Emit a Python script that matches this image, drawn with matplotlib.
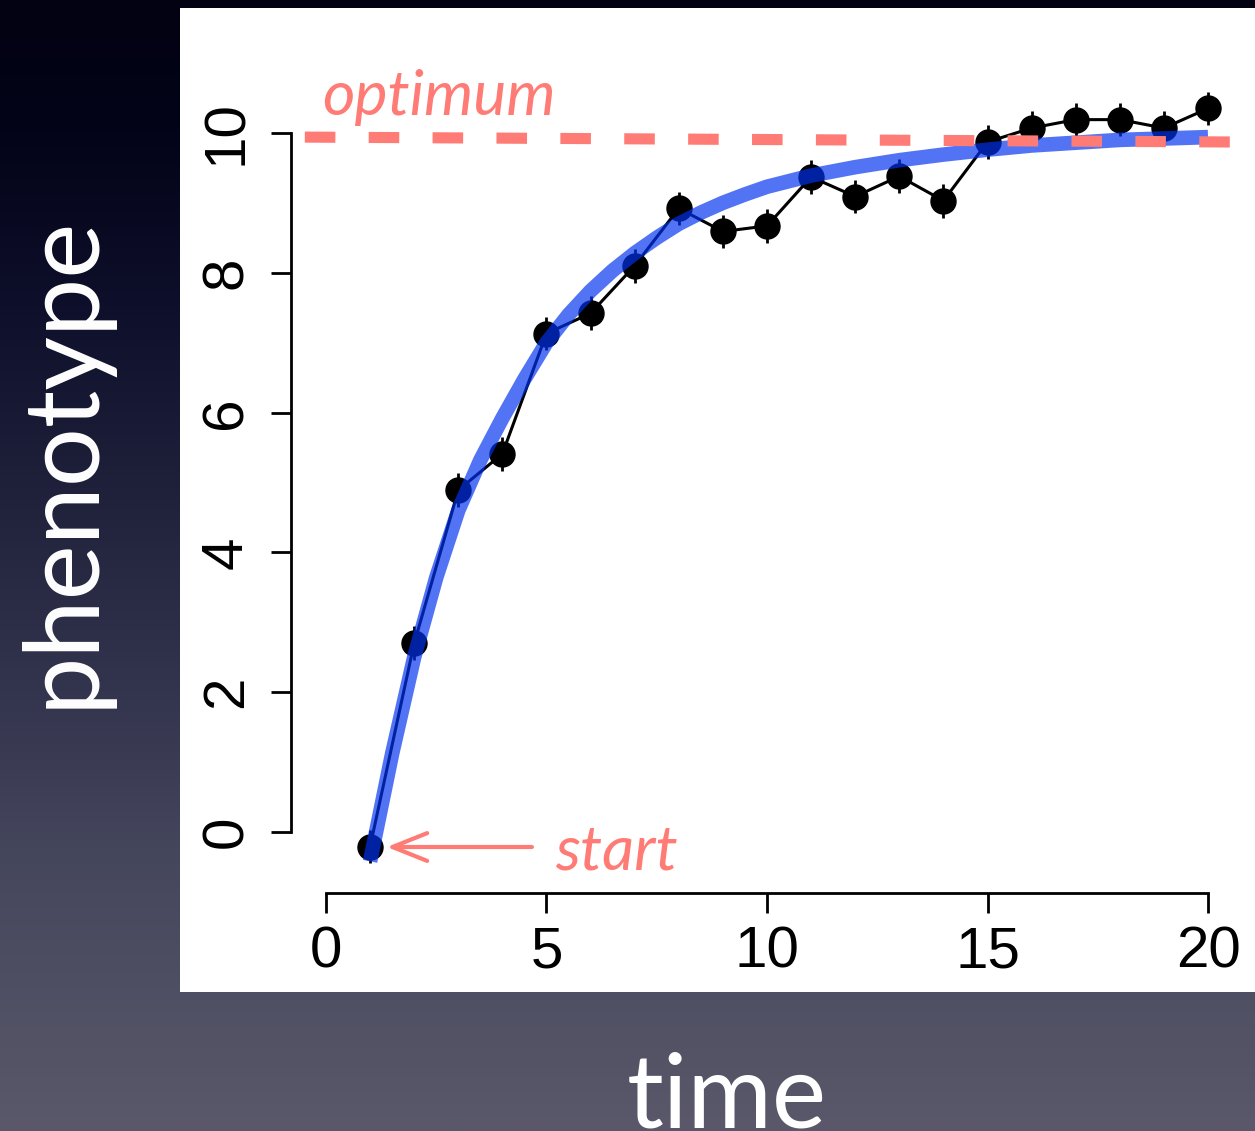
import numpy as np
import matplotlib
matplotlib.use("Agg")
import matplotlib.pyplot as plt
from matplotlib.patches import Rectangle

# ---- data ----
time = [1, 2, 3, 4, 5, 6, 7, 8, 9, 10, 11, 12, 13, 14, 15, 16, 17, 18, 19, 20]
phenotype = [-0.21, 2.70, 4.89, 5.41, 7.13, 7.42, 8.10, 8.92, 8.59, 8.67,
             9.37, 9.09, 9.38, 9.03, 9.87, 10.07, 10.19, 10.19, 10.07, 10.35]
phen_err = [0.24] * 20

fit_time = [1, 1.5, 2, 2.5, 3, 3.5, 4, 4.5, 5, 5.5, 6, 6.5, 7, 7.5, 8, 8.5,
            9, 9.5, 10, 11, 12, 13, 14, 15, 16, 17, 18, 19, 20]
fit_value = [-0.42, 1.12, 2.50, 3.64, 4.60, 5.32, 5.92, 6.48, 7.00, 7.40,
             7.74, 8.03, 8.28, 8.50, 8.70, 8.86, 9.00, 9.12, 9.23, 9.39,
             9.51, 9.61, 9.69, 9.76, 9.82, 9.86, 9.90, 9.92, 9.94]

optimum_time = [-0.48, 20.6]
optimum_value = [9.94, 9.87]

x_ticks = [0, 5, 10, 15, 20]
y_ticks = [0, 2, 4, 6, 8, 10]

RED = "#FF7B75"
BLUE = "#0033F0"

W, H = 1255, 1131
plt.rcParams["lines.scale_dashes"] = False
fig = plt.figure(figsize=(W / 100, H / 100), dpi=100)

# background gradient
bg = fig.add_axes([0, 0, 1, 1], zorder=-10)
bg.set_axis_off()
ys = np.linspace(0, 1, 400)
stops = [0.0, 0.13, 0.27, 0.45, 0.62, 0.75, 1.0]
r = np.interp(ys, stops, [2, 4, 14, 33, 52, 68, 90])
g = np.interp(ys, stops, [2, 4, 15, 34, 53, 70, 88])
b = np.interp(ys, stops, [18, 26, 42, 60, 78, 92, 106])
img = np.stack([r, g, b], axis=-1)[:, None, :] / 255.0
img = np.repeat(img, 4, axis=1)
bg.imshow(img, aspect="auto", extent=[0, 1, 0, 1], origin="upper")
bg.set_xlim(0, 1)
bg.set_ylim(0, 1)

# white panel
fig.patches.append(Rectangle((180 / W, 1 - 992 / H), (W - 180) / W, (992 - 8) / H,
                             transform=fig.transFigure, facecolor="white",
                             edgecolor="none", zorder=-5))

left = 290.7 / W
right = 1243.3 / W
bottom = 1 - 893 / H
top = 1 - 70 / H
ax = fig.add_axes([left, bottom, right - left, top - bottom])
ax.set_facecolor("none")
ax.set_xlim(-0.8, 20.8)
ax.set_ylim(-0.873, 10.90)

for s in ["top", "right"]:
    ax.spines[s].set_visible(False)
for s in ["left", "bottom"]:
    ax.spines[s].set_linewidth(2.0)
    ax.spines[s].set_color("black")
ax.spines["left"].set_bounds(0, 10)
ax.spines["bottom"].set_bounds(0, 20)

ax.set_xticks(x_ticks)
ax.set_yticks(y_ticks)
ax.set_xticklabels([str(v) for v in x_ticks])
ax.set_yticklabels([str(v) for v in y_ticks], rotation=90, va="center")
ax.tick_params(axis="both", direction="out", length=14.5, width=2.0,
               labelsize=42, colors="black")
ax.tick_params(axis="x", pad=9)
ax.tick_params(axis="y", pad=12)
for lab in ax.get_xticklabels() + ax.get_yticklabels():
    lab.set_family("Liberation Sans")

# data
ax.errorbar(time, phenotype, yerr=phen_err, fmt="none", ecolor="black",
            elinewidth=2.0, capsize=0, zorder=2)
ax.plot(time, phenotype, "-", color="black", lw=2.2, marker="o",
        markersize=18, markerfacecolor="black", markeredgecolor="black",
        zorder=3)
ax.plot(fit_time, fit_value, "-", color=BLUE, lw=10.5, alpha=0.68,
        solid_capstyle="butt", solid_joinstyle="round", zorder=4)
ax.plot(optimum_time, optimum_value, color=RED, lw=8, dashes=(22, 24),
        dash_capstyle="butt", clip_on=False, zorder=5)

# annotations
ax.text(-0.09, 10.26, "optimum", color=RED, fontsize=45, style="italic",
        family="Lato", ha="left", va="baseline", clip_on=False, zorder=6)
ax.text(5.19, -0.54, "start", color=RED, fontsize=45, style="italic",
        family="Lato", ha="left", va="baseline", clip_on=False, zorder=6)
ax.annotate("", xy=(1.38, -0.215), xytext=(4.67, -0.215),
            arrowprops=dict(arrowstyle="->,head_length=25,head_width=10",
                            mutation_scale=1, lw=3, color=RED,
                            shrinkA=0, shrinkB=0),
            annotation_clip=False, zorder=6)

# axis titles
fig.text(93 / W, 1 - 461 / H, "phenotype", color="white", fontsize=75,
         family="Lato", rotation=90, rotation_mode="anchor",
         ha="center", va="baseline")
fig.text(727 / W, 1 - 1127 / H, "time", color="white", fontsize=74,
         family="Lato", ha="center", va="baseline")

fig.savefig("out.png", dpi=100)
